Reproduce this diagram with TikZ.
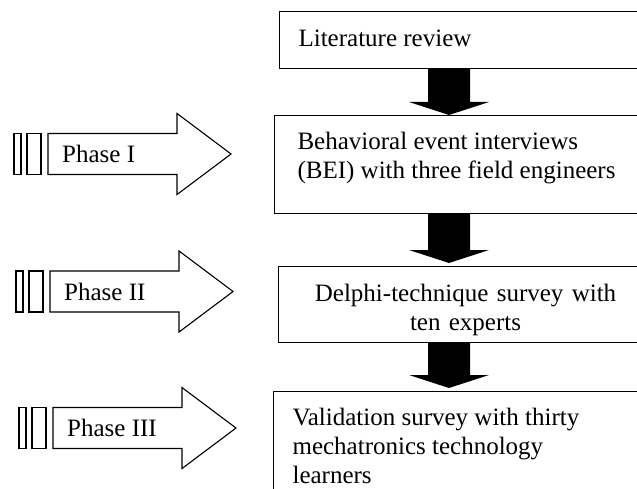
\documentclass[tikz,border=0pt]{standalone}
\usepackage{fontspec}
\setmainfont{Liberation Serif}
\usetikzlibrary{calc}

\tikzset{
  stepbox/.style={draw, line width=1.1pt, anchor=north west, align=flush left, inner ysep=0pt, inner xsep=19pt, text width=340pt, font=\fontsize{25}{29}\selectfont},
  phasetext/.style={anchor=west, inner sep=0pt, font=\fontsize{25}{29}\selectfont},
  outline/.style={draw, line width=1.1pt, line join=miter}
}

\begin{document}
\begin{tikzpicture}[x=1pt, y=-1pt]
\useasboundingbox (0,0) rectangle (637,489);
\clip (0,0) rectangle (637,489);
% process boxes, right side (they run past the right edge)
\node[stepbox, text height=35pt, text depth=22pt] (lit) at (279,11) {Literature review};
\node[stepbox, inner xsep=23pt, text height=34pt, text depth=64pt] (bei) at (274,115) {Behavioral event interviews\\(BEI) with three field engineers};
\node[stepbox, text width=336pt, align=center, text height=35pt, text depth=41pt] (del) at (278,266) {Delphi-technique survey with\\ten experts};
\node[stepbox, text height=34pt, text depth=80pt] (val) at (273,391) {Validation survey with thirty\\mechatronics technology\\learners};
% black block arrows between the boxes
\coordinate (axis) at (449,0);
\foreach \a/\b/\g in {lit/bei/0pt, bei/del/3pt, del/val/3pt} {
  \fill let \p1=(axis |- \a.south), \p2=(axis |- \b.north) in
    (\x1-21pt,\y1) -- (\x1+21pt,\y1) -- (\x1+21pt,\y2+\g+13pt) -- (\x1+40pt,\y2+\g+13pt)
    -- (\x1,\y2+\g) -- (\x1-40pt,\y2+\g+13pt) -- (\x1-21pt,\y2+\g+13pt) -- cycle;
}
% phase arrows, left side
\foreach \cy/\bx/\name/\txt in {154/48/ph1/Phase I, 291.5/50/ph2/Phase II, 428/53/ph3/Phase III} {
  \draw[outline] (\bx-34,\cy-20.5) rectangle (\bx-27,\cy+20.5);
  \draw[outline] (\bx-21,\cy-20.5) rectangle (\bx-7,\cy+20.5);
  \draw[outline] (\bx,\cy-20.5) -- (\bx+129,\cy-20.5) -- (\bx+129,\cy-40.5) -- (\bx+183,\cy)
    -- (\bx+129,\cy+40.5) -- (\bx+129,\cy+20.5) -- (\bx,\cy+20.5) -- cycle;
  \node[phasetext] (\name) at (\bx+14,\cy) {\txt};
}
\end{tikzpicture}
\end{document}
